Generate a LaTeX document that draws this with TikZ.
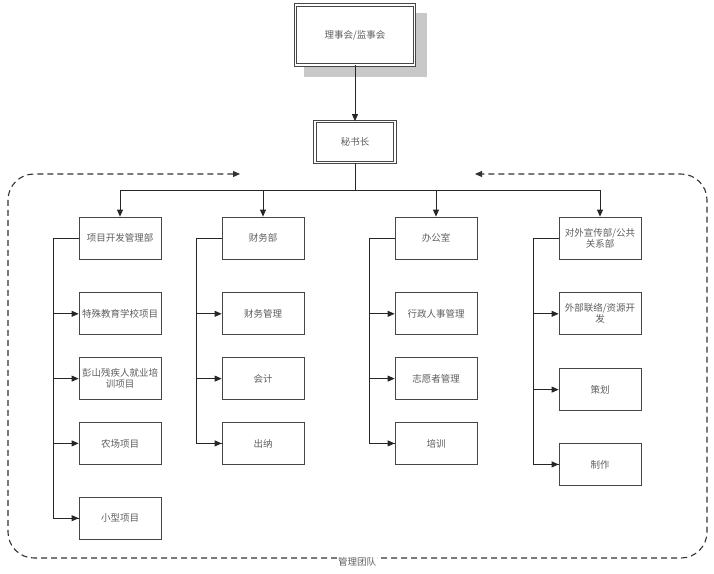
\documentclass[tikz,border=0pt]{standalone}
\usepackage{fontspec}
\usepackage{tikz}
\usetikzlibrary{arrows.meta,positioning}
\newfontfamily\cjk{Noto Sans CJK SC}
\definecolor{orgline}{RGB}{70,70,70}
\definecolor{orgtext}{RGB}{95,95,95}
\definecolor{orgdash}{RGB}{50,50,50}
\definecolor{orgshadow}{RGB}{200,200,200}
\tikzset{
  orgbox/.style={draw=orgline, thick, fill=white, text=orgtext, align=center, inner sep=2pt, minimum width=82pt, minimum height=42pt},
  orgtop/.style={draw=orgline, thick, double, double distance=1.6pt, fill=white, text=orgtext, align=center},
  orgarr/.style={-{Triangle[length=7pt,width=6pt]}, thick, draw=black!85},
  orglink/.style={thick, draw=black!85},
  orgframe/.style={{Triangle[length=7pt,width=6pt]}-{Triangle[length=7pt,width=6pt]}, line width=1.1pt, dash pattern=on 6pt off 4pt, draw=orgdash, rounded corners=26pt}
}
\begin{document}
\begin{tikzpicture}[x=1pt, y=1pt, font=\cjk\fontsize{9.5}{11}\selectfont, node distance=22pt and 20pt]
  \useasboundingbox (0,0) rectangle (714,-573);
  % board and secretary
  \fill[orgshadow] (304,-13) rectangle (427,-77);
  \node[orgtop, minimum width=119pt, minimum height=60pt] (board) at (355,-35) {理事会/监事会};
  \node[orgtop, minimum width=80pt, minimum height=41pt] (sec) at (355,-142) {秘书长};
  \draw[orgarr] (board.south) -- (sec.north);
  % departments
  \node[orgbox] (proj) at (120,-238) {项目开发管理部};
  \node[orgbox] (fin) at (263,-238) {财务部};
  \node[orgbox] (off) at (436,-238) {办公室};
  \node[orgbox] (pr) at (600,-238) {对外宣传部/公共\\关系部};
  \coordinate (bus) at (355,-190);
  \draw[orglink] (sec.south) -- (bus);
  \draw[orgarr] (bus) -| (proj.north);
  \draw[orgarr] (bus) -| (fin.north);
  \draw[orgarr] (bus) -| (off.north);
  \draw[orgarr] (bus) -| (pr.north);
  % project children
  \node[orgbox, below=of proj, yshift=-11pt] (proj1) {特殊教育学校项目};
  \node[orgbox, below=of proj1] (proj2) {彭山残疾人就业培\\训项目};
  \node[orgbox, below=of proj2] (proj3) {农场项目};
  \node[orgbox, below=of proj3, yshift=-10pt] (proj4) {小型项目};
  \draw[orglink] (proj.west) -- ++(-25,0) coordinate (projbus) |- (proj4.west);
  \draw[orgarr] (projbus |- proj1.west) -- (proj1.west);
  \draw[orgarr] (projbus |- proj2.west) -- (proj2.west);
  \draw[orgarr] (projbus |- proj3.west) -- (proj3.west);
  \draw[orgarr] (projbus |- proj4.west) -- (proj4.west);
  % finance children
  \node[orgbox, below=of fin, yshift=-11pt] (fin1) {财务管理};
  \node[orgbox, below=of fin1] (fin2) {会计};
  \node[orgbox, below=of fin2] (fin3) {出纳};
  \draw[orglink] (fin.west) -- ++(-25,0) coordinate (finbus) |- (fin3.west);
  \draw[orgarr] (finbus |- fin1.west) -- (fin1.west);
  \draw[orgarr] (finbus |- fin2.west) -- (fin2.west);
  \draw[orgarr] (finbus |- fin3.west) -- (fin3.west);
  % office children
  \node[orgbox, below=of off, yshift=-11pt] (off1) {行政人事管理};
  \node[orgbox, below=of off1] (off2) {志愿者管理};
  \node[orgbox, below=of off2] (off3) {培训};
  \draw[orglink] (off.west) -- ++(-25,0) coordinate (offbus) |- (off3.west);
  \draw[orgarr] (offbus |- off1.west) -- (off1.west);
  \draw[orgarr] (offbus |- off2.west) -- (off2.west);
  \draw[orgarr] (offbus |- off3.west) -- (off3.west);
  % public relations children
  \node[orgbox, below=of pr, yshift=-11pt] (pr1) {外部联络/资源开\\发};
  \node[orgbox, below=of pr1, yshift=-11pt] (pr2) {策划};
  \node[orgbox, below=of pr2, yshift=-10pt] (pr3) {制作};
  \draw[orglink] (pr.west) -- ++(-25,0) coordinate (prbus) |- (pr3.west);
  \draw[orgarr] (prbus |- pr1.west) -- (pr1.west);
  \draw[orgarr] (prbus |- pr2.west) -- (pr2.west);
  \draw[orgarr] (prbus |- pr3.west) -- (pr3.west);
  % management team frame
  \coordinate (frameL) at (240,-174);
  \coordinate (frameR) at (475,-174);
  \draw[orgframe] (frameL) -- (8,-174) -- (8,-558) -- (707,-558) -- (707,-174) -- (frameR);
  \node[fill=white, text=orgtext, inner sep=1pt] (team) at (357,-562) {管理团队};
\end{tikzpicture}
\end{document}
